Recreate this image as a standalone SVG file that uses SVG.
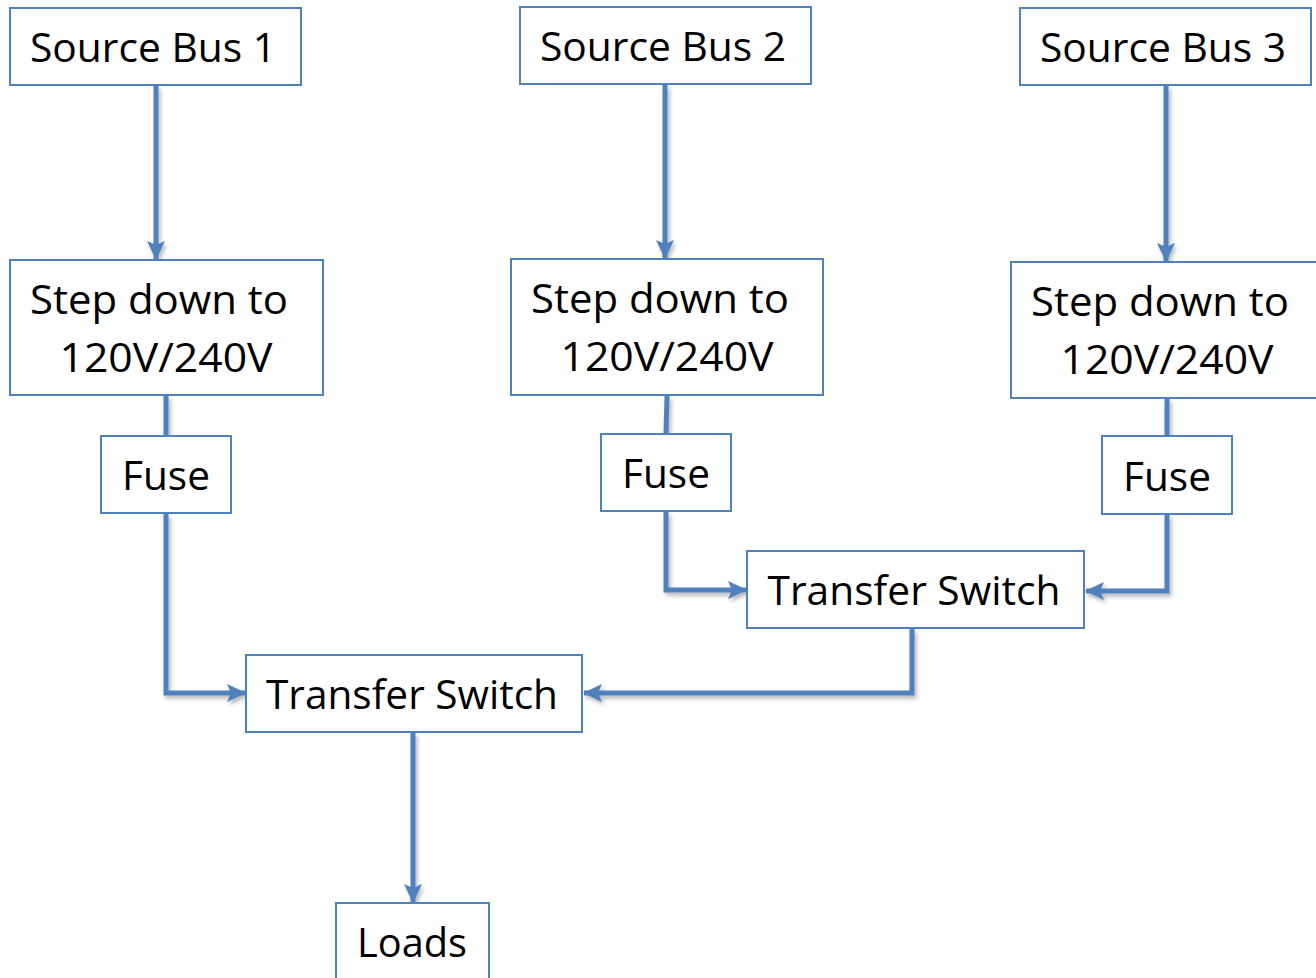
<svg xmlns="http://www.w3.org/2000/svg" width="1316" height="978" viewBox="0 0 1316 978">
  <style>
    .box { fill: #ffffff; stroke: #4f81bd; stroke-width: 2; }
    .lbl { font-family: "Open Sans", "Liberation Sans", sans-serif; font-size: 40px; fill: #000000; text-anchor: middle; }
    .wire { fill: none; stroke: #4f81bd; stroke-width: 5; stroke-linejoin: miter; }
  </style>
  <defs>
    <marker id="head" markerUnits="userSpaceOnUse" markerWidth="19" markerHeight="18" viewBox="0 0 19 18" refX="18" refY="9" orient="auto">
      <path d="M0,0 L19,9 L0,18 L4,9 Z" fill="#4f81bd"/>
    </marker>
    <filter id="shade" x="-20%" y="-20%" width="140%" height="140%">
      <feDropShadow dx="2" dy="3" stdDeviation="2" flood-color="#000000" flood-opacity="0.3"/>
    </filter>
  </defs>

  <rect width="1316" height="978" fill="#ffffff"/>

  <!-- connectors -->
  <g id="connectors" filter="url(#shade)">
    <line class="wire" x1="156" y1="86" x2="156" y2="259" marker-end="url(#head)"/>
    <line class="wire" x1="665" y1="85" x2="665" y2="258" marker-end="url(#head)"/>
    <line class="wire" x1="1166" y1="86" x2="1166" y2="261" marker-end="url(#head)"/>
    <line class="wire" x1="166" y1="396" x2="166" y2="436"/>
    <line class="wire" x1="667" y1="396" x2="666" y2="434"/>
    <line class="wire" x1="1167" y1="399" x2="1167" y2="436"/>
    <polyline class="wire" points="166,514 166,693 245,693" marker-end="url(#head)"/>
    <polyline class="wire" points="666,512 666,590 746,590" marker-end="url(#head)"/>
    <polyline class="wire" points="1167,515 1167,591 1086,591" marker-end="url(#head)"/>
    <polyline class="wire" points="912,629 912,693 584,693" marker-end="url(#head)"/>
    <line class="wire" x1="413" y1="733" x2="413" y2="902" marker-end="url(#head)"/>
  </g>

  <!-- nodes -->
  <g id="source-bus-1">
    <rect class="box" x="10" y="8" width="291" height="77"/>
    <text class="lbl" x="153" y="62" textLength="246" lengthAdjust="spacingAndGlyphs">Source Bus 1</text>
  </g>
  <g id="source-bus-2">
    <rect class="box" x="520" y="7" width="291" height="77"/>
    <text class="lbl" x="663" y="61" textLength="246" lengthAdjust="spacingAndGlyphs">Source Bus 2</text>
  </g>
  <g id="source-bus-3">
    <rect class="box" x="1020" y="8" width="291" height="77"/>
    <text class="lbl" x="1163" y="62" textLength="246" lengthAdjust="spacingAndGlyphs">Source Bus 3</text>
  </g>

  <g id="step-down-1">
    <rect class="box" x="10" y="260" width="313" height="135"/>
    <text class="lbl" x="159" y="314" textLength="258" lengthAdjust="spacingAndGlyphs">Step down to</text>
    <text class="lbl" x="166" y="372" textLength="213" lengthAdjust="spacingAndGlyphs">120V/240V</text>
  </g>
  <g id="step-down-2">
    <rect class="box" x="511" y="259" width="312" height="136"/>
    <text class="lbl" x="660" y="313" textLength="258" lengthAdjust="spacingAndGlyphs">Step down to</text>
    <text class="lbl" x="667" y="371" textLength="213" lengthAdjust="spacingAndGlyphs">120V/240V</text>
  </g>
  <g id="step-down-3">
    <rect class="box" x="1011" y="262" width="313" height="136"/>
    <text class="lbl" x="1160" y="316" textLength="258" lengthAdjust="spacingAndGlyphs">Step down to</text>
    <text class="lbl" x="1167" y="374" textLength="213" lengthAdjust="spacingAndGlyphs">120V/240V</text>
  </g>

  <g id="fuse-1">
    <rect class="box" x="101" y="436" width="130" height="77"/>
    <text class="lbl" x="166" y="490" textLength="88" lengthAdjust="spacingAndGlyphs">Fuse</text>
  </g>
  <g id="fuse-2">
    <rect class="box" x="601" y="434" width="130" height="77"/>
    <text class="lbl" x="666" y="488" textLength="88" lengthAdjust="spacingAndGlyphs">Fuse</text>
  </g>
  <g id="fuse-3">
    <rect class="box" x="1102" y="436" width="130" height="78"/>
    <text class="lbl" x="1167" y="491" textLength="88" lengthAdjust="spacingAndGlyphs">Fuse</text>
  </g>

  <g id="transfer-switch-2">
    <rect class="box" x="747" y="551" width="337" height="77"/>
    <text class="lbl" x="914" y="605" textLength="293" lengthAdjust="spacingAndGlyphs">Transfer Switch</text>
  </g>
  <g id="transfer-switch-1">
    <rect class="box" x="246" y="655" width="336" height="77"/>
    <text class="lbl" x="412" y="709" textLength="292" lengthAdjust="spacingAndGlyphs">Transfer Switch</text>
  </g>

  <g id="loads">
    <rect class="box" x="336" y="903" width="153" height="90"/>
    <text class="lbl" x="412" y="957" textLength="110" lengthAdjust="spacingAndGlyphs">Loads</text>
  </g>
</svg>
